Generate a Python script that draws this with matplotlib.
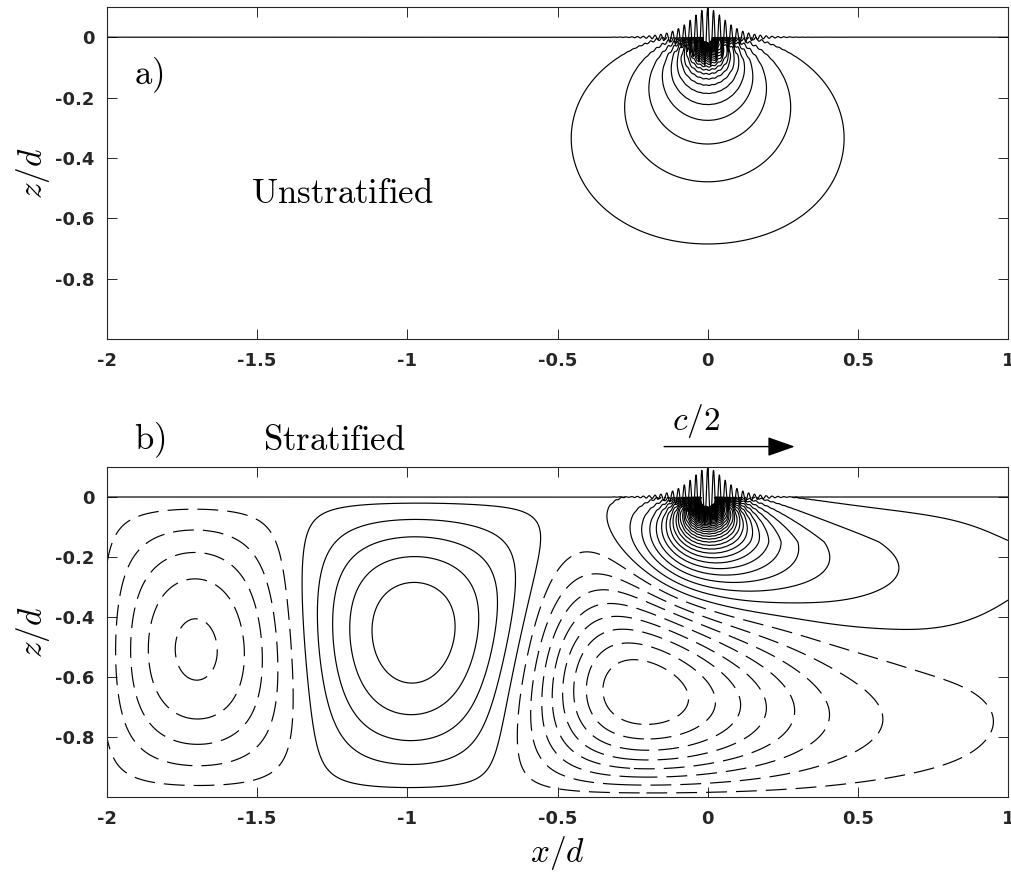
import numpy as np
import matplotlib
matplotlib.use('Agg')
import matplotlib.pyplot as plt

plt.rcParams['mathtext.fontset'] = 'cm'
plt.rcParams['lines.scale_dashes'] = False

# ---------------- values ----------------
x_limits = [-2.0, 1.0]
z_limits = [-1.0, 0.1]
x_ticks = [-2, -1.5, -1, -0.5, 0, 0.5, 1]
x_ticklabels = ['-2', '-1.5', '-1', '-0.5', '0', '0.5', '1']
z_ticks = [0, -0.2, -0.4, -0.6, -0.8]
z_ticklabels = ['0', '-0.2', '-0.4', '-0.6', '-0.8']

# surface wave packet (both panels)
packet_amplitude = 0.095
packet_wavelength = 0.0195
packet_envelope = 0.052

# panel a : induced flow of the packet (dipole just above the surface)
dipole_height = 0.015
levels_a = 0.8 * np.arange(1, 38)

# near-surface orbital motion that makes the comb of short contours
comb_amplitude = [2.6, 3.2]      # panel a, panel b (in contour steps)
comb_decay = 0.035
comb_envelope = 0.05

# panel b : near field of the packet, slightly stretched downstream
near_strength_b = 2.2
near_stretch_b = 0.2

# panel b : trailing internal wave, mode 1 (amplitude read at nodes)
wake_wavelength = 1.38
wake_zero = -1.355               # zero line between the dashed and solid cells
wake_tilt = 0.08
mode1_x = [-2.4, -1.7, -1.0, -0.72, -0.4, -0.15, 0.1, 0.4, 0.7, 1.3]
mode1_amp = [4.9, 4.9, 4.6, 5.4, 10.3, 10.2, 6.3, 2.5, 0.9, 0.15]
# second vertical mode, localised under the packet
mode2_x = [-2.4, -1.7, -1.0, -0.55, -0.3, -0.1, 0.1, 0.5, 1.0, 1.3]
mode2_amp = [0.0, 0.05, 0.45, 0.4, 2.0, 2.6, 2.5, 1.45, 0.42, 0.32]
levels_b = np.arange(-12, 46) + 0.4

panel_texts = ['a)', 'Unstratified', 'b)', 'Stratified']
speed_label = 'c/2'

# ---------------- fields ----------------
xs = np.concatenate([np.linspace(-2, -0.3, 900, endpoint=False),
                     np.linspace(-0.3, 0.3, 1500, endpoint=False),
                     np.linspace(0.3, 1.0, 400)])
zs = np.concatenate([np.linspace(-1, -0.12, 450, endpoint=False),
                     np.linspace(-0.12, 0.0, 300)])
X, Z = np.meshgrid(xs, zs)

kp = 2 * np.pi / packet_wavelength


def channel_dipole(xx, zz, h):
    w = xx + 1j * (zz - h)
    return np.imag(0.5 * np.pi / np.tanh(0.5 * np.pi * w))


def comb(xx, zz, amp):
    return amp * np.sin(kp * xx) / np.cosh(xx / comb_envelope) * np.exp(zz / comb_decay)


def smooth_profile(xq, nx, ny, sigma=0.12):
    xf = np.linspace(-3, 2, 5001)
    yf = np.interp(xf, nx, ny)
    dx = xf[1] - xf[0]
    kx = np.arange(-int(4 * sigma / dx), int(4 * sigma / dx) + 1) * dx
    ker = np.exp(-0.5 * (kx / sigma) ** 2)
    ker /= ker.sum()
    pad = len(kx) // 2
    yp = np.concatenate([np.full(pad, yf[0]), yf, np.full(pad, yf[-1])])
    ys = np.convolve(yp, ker, mode='valid')
    return np.interp(xq, xf, ys)


psi_a = channel_dipole(X, Z, dipole_height) + comb(X, Z, comb_amplitude[0])

# panel b
blend = 0.5 * (1 + np.tanh(X / 0.2))
stretch = 1 + near_stretch_b * blend * np.minimum(np.abs(Z) / 0.15, 1)
near_b = near_strength_b * channel_dipole(X / stretch, Z, dipole_height)

kw = 2 * np.pi / wake_wavelength
x_trough = wake_zero + 0.75 * wake_wavelength
tilt_on = 0.5 * (1 + np.tanh((X + 0.72) / 0.12))
xi = X - wake_tilt * (Z + 0.5) * tilt_on
mu = 0.15
g = -mu * np.logaddexp(0, -(xi - x_trough) / mu)
theta = 1.5 * np.pi + kw * g
F1 = smooth_profile(xi, mode1_x, mode1_amp) * np.sin(theta)
F2 = smooth_profile(X, mode2_x, mode2_amp, sigma=0.08)
s = np.abs(Z)
wake = F1 * np.sin(np.pi * s) + F2 * np.sin(2 * np.pi * s)
psi_b = near_b + wake + comb(X, Z, comb_amplitude[1])

xl = np.linspace(-2, 1, 30001)
eta = packet_amplitude * np.cos(kp * xl) / np.cosh(xl / packet_envelope)

# ---------------- figure ----------------
fig = plt.figure(figsize=(10.11, 8.73), dpi=100)
W, H = 1011, 873
ax_a = fig.add_axes([107 / W, 1 - 339 / H, 901 / W, 332 / H])
ax_b = fig.add_axes([107 / W, 1 - 797 / H, 901 / W, 330 / H])

dash = (0, (15, 6.5))
lw = 0.85
ax_a.contour(X, Z, psi_a, levels=levels_a, colors='k', linewidths=lw, linestyles='solid')
ax_b.contour(X, Z, psi_b, levels=levels_b[levels_b > 0], colors='k', linewidths=lw, linestyles='solid')
ax_b.contour(X, Z, psi_b, levels=levels_b[levels_b < 0], colors='k', linewidths=lw, linestyles=[dash])

for ax in (ax_a, ax_b):
    ax.plot(xl, eta, color='k', lw=lw)
    ax.set_xlim(x_limits)
    ax.set_ylim(z_limits)
    ax.set_xticks(x_ticks)
    ax.set_xticklabels(x_ticklabels, fontsize=13, fontweight='bold', family='DejaVu Sans')
    ax.set_yticks(z_ticks)
    ax.set_yticklabels(z_ticklabels, fontsize=13, fontweight='bold', family='DejaVu Sans')
    ax.tick_params(direction='in', length=7, width=0.7, top=True, right=True,
                   colors='#262626', pad=9)
    for sp in ax.spines.values():
        sp.set_linewidth(0.8)
        sp.set_color('#262626')
    ax.set_ylabel(r'$z/d$', fontsize=24, labelpad=2)

ax_b.set_xlabel(r'$x/d$', fontsize=24, labelpad=5)

tfs = 25
ax_a.text(-1.91, -0.125, r'$\mathrm{a)}$', fontsize=tfs, va='center', ha='left')
ax_a.text(-1.52, -0.515, r'$\mathrm{Unstratified}$', fontsize=tfs, va='center', ha='left')
ax_b.text(-1.91, 0.19, r'$\mathrm{b)}$', fontsize=tfs, va='center', ha='left', clip_on=False)
ax_b.text(-1.48, 0.19, r'$\mathrm{Stratified}$', fontsize=tfs, va='center', ha='left', clip_on=False)
ax_b.text(-0.04, 0.255, r'$c/2$', fontsize=24, va='center', ha='center', clip_on=False)
ax_b.annotate('', xy=(0.29, 0.168), xytext=(-0.145, 0.168), xycoords='data',
              annotation_clip=False,
              arrowprops=dict(arrowstyle='-|>,head_length=1.7,head_width=0.6',
                              color='k', lw=1.0, shrinkA=0, shrinkB=0))

fig.savefig('out.png', dpi=100)
